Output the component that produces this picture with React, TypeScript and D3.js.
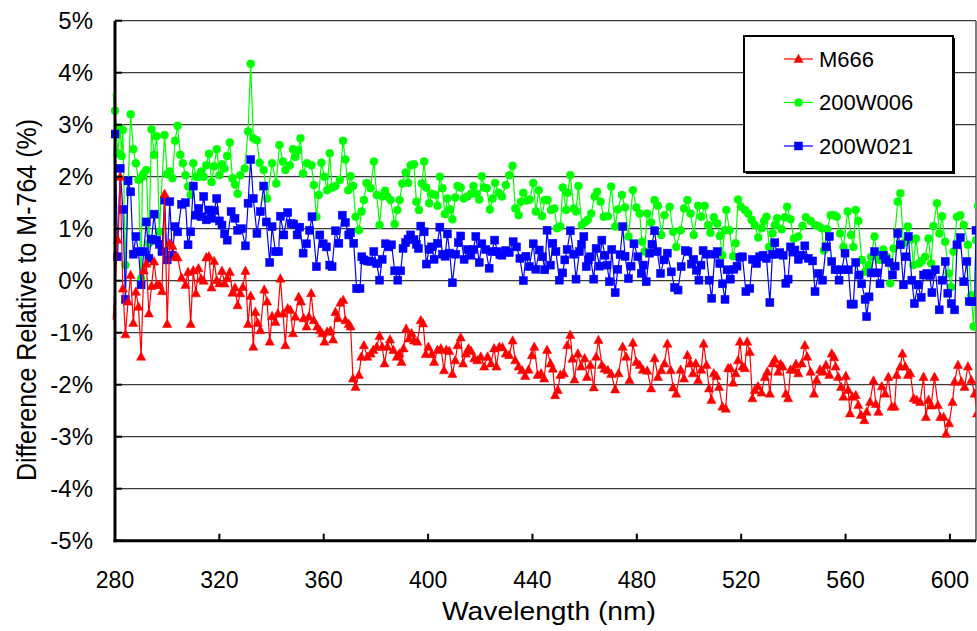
import React from 'react';
import * as d3 from 'd3';

type P = [number, number];

const xTicks = [280, 320, 360, 400, 440, 480, 520, 560, 600];
const yTicks = [-5, -4, -3, -2, -1, 0, 1, 2, 3, 4, 5];
const seriesNames = ['M666', '200W006', '200W021'];

const m666: P[] = [
[279.3,-0.75],[281,0.79],[282,2.0],[283,-0.15],[284,-1.03],[285,-0.4],[286,0.11],[287,-0.81],[288,-0.21],[289,-0.5],[290,-1.46],[291,0.2],[292,0.33],[293,-0.63],[294,-0.1],[295,0.37],[296,-0.08],[297,-0.08],[298,-0.2],[299,1.67],[300,-0.83],[301,0.72],[302,0.67],[303,0.46],[304,0.45],[305.5,0.06],[307,-0.08],[308,0.17],[309,-0.83],[310,0.2],[311,-0.24],[312,0.24],[313,0.04],[314,0.0],[315,0.45],[316,0.47],[317,-0.13],[318,0.38],[319,0.01],[320,-0.05],[321,0.19],[322,-0.05],[323,0.05],[324,0.17],[325,-0.23],[326,-0.13],[327,-0.47],[328,-0.24],[329,-0.12],[330,0.19],[331,-0.83],[332,-0.29],[333,-1.27],[333.8,-0.6],[334.7,-0.81],[335.7,-0.95],[337.2,-0.17],[338.3,-0.4],[339.3,-1.17],[340.2,-0.68],[341.5,-0.79],[342.4,-0.63],[343.4,0.04],[344.4,-0.63],[345.3,-1.24],[346.2,-0.53],[347.2,-0.56],[348.2,-1.01],[349.1,-0.69],[350.4,-0.31],[351.3,-0.4],[352.3,-0.72],[353.4,-0.88],[354.3,-0.69],[355.2,-0.24],[356.2,-0.76],[357.5,-0.88],[358.5,-0.95],[359.4,-1.01],[360.3,-1.17],[361.3,-0.98],[362.6,-0.96],[363.6,-1.13],[364.5,-0.6],[365.5,-0.72],[366.4,-0.42],[367.5,-0.37],[368.3,-0.76],[369.6,-0.83],[370.3,-0.88],[371.2,-1.88],[372.2,-2.04],[373.5,-1.81],[374.4,-1.46],[375.4,-1.24],[376.7,-1.46],[378,-1.4],[379,-1.33],[380.3,-1.27],[381.4,-1.06],[382.4,-1.27],[383.3,-1.59],[384.4,-1.27],[385.4,-1.13],[386.7,-1.33],[388,-1.46],[389,-1.4],[389.8,-1.56],[390.6,-1.3],[391.6,-0.92],[392.7,-1.11],[393.7,-1.01],[394.6,-1.15],[395.9,-1.17],[397.2,-0.76],[398.1,-0.82],[399.1,-1.41],[400.1,-1.27],[401.4,-1.41],[402.3,-1.56],[403.6,-1.33],[404.9,-1.3],[406.1,-1.72],[407,-1.33],[408.1,-1.35],[409.3,-1.79],[410.4,-1.53],[411.3,-1.24],[412.5,-1.09],[413.4,-1.59],[414.5,-1.4],[415.5,-1.3],[416.5,-1.35],[417.7,-1.49],[418.9,-1.53],[420.2,-1.46],[421.5,-1.65],[422.8,-1.46],[424.1,-1.59],[425.3,-1.3],[426.2,-1.65],[427.3,-1.27],[428.5,-1.28],[429.8,-1.4],[431.1,-1.43],[432.4,-1.15],[433.4,-1.53],[434.7,-1.65],[436,-1.72],[437.2,-1.83],[438.5,-1.71],[439.8,-1.43],[440.7,-1.27],[442,-1.81],[443.3,-1.78],[444.5,-1.88],[445.6,-1.33],[446.9,-1.59],[447.8,-1.69],[448.7,-2.2],[449.7,-2.1],[450.7,-1.81],[452,-1.78],[453.3,-1.24],[454.5,-1.04],[455.3,-1.5],[456.1,-1.9],[457.4,-1.4],[458.6,-1.65],[460,-1.49],[460.9,-1.85],[462.2,-1.62],[463.5,-2.05],[464.4,-1.46],[465.3,-1.14],[466.6,-1.62],[467.6,-1.69],[468.9,-1.72],[470.2,-1.79],[471.7,-2.09],[473,-1.78],[474.6,-1.27],[475.9,-1.46],[477.2,-1.91],[478.5,-1.19],[479.8,-1.56],[481.1,-1.62],[482.3,-1.71],[484,-1.73],[485.5,-2.07],[486.8,-1.49],[488.1,-1.85],[489.4,-1.72],[490.6,-1.59],[491.7,-1.21],[493,-1.72],[493.9,-2.05],[495.1,-2.17],[496.8,-1.71],[498.1,-1.88],[499.4,-1.43],[500.5,-1.59],[501.5,-1.78],[502.6,-1.59],[503.5,-1.91],[504.7,-1.71],[505.6,-1.21],[506.7,-1.62],[507.7,-2.07],[508.6,-2.29],[509.5,-1.78],[510.5,-1.83],[511.5,-2.04],[512.8,-2.42],[514.1,-2.46],[515,-1.68],[515.9,-1.68],[516.9,-1.96],[517.9,-1.78],[518.8,-1.53],[519.5,-1.17],[520.5,-1.65],[521.4,-1.68],[522.3,-1.17],[523.3,-1.37],[524.3,-2.26],[525.2,-2.1],[526.5,-2.03],[527.8,-2.15],[529.1,-1.85],[530,-1.75],[531,-2.17],[532,-1.59],[532.9,-1.51],[534.2,-1.75],[535.1,-1.6],[535.9,-1.65],[537.1,-2.17],[538,-2.26],[538.9,-1.71],[540.2,-1.71],[541,-1.6],[541.9,-1.78],[543.2,-1.59],[544.4,-1.24],[545.3,-1.46],[546.6,-1.75],[547.9,-2.17],[548.9,-1.91],[550.2,-1.71],[551.5,-1.75],[552.5,-1.62],[553.8,-1.81],[554.7,-1.4],[555.6,-1.47],[556.2,-1.65],[557.2,-1.85],[558.3,-2.04],[559.2,-2.23],[560.1,-1.83],[561,-2.1],[561.7,-2.55],[562.6,-2.23],[563.9,-2.2],[564.9,-2.39],[565.9,-2.58],[567.2,-2.68],[568.1,-2.52],[569.4,-2.33],[570.7,-1.92],[571.6,-2.37],[572.6,-2.52],[573.9,-2.03],[575.2,-2.17],[576.4,-1.85],[577.7,-2.42],[578.8,-2.42],[579.6,-1.81],[581,-1.65],[581.8,-1.4],[582.9,-1.65],[583.9,-1.81],[584.8,-1.78],[586.1,-2.26],[587.3,-2.29],[588.6,-2.33],[589.9,-1.85],[590.8,-2.62],[591.8,-2.29],[592.8,-2.4],[594.1,-1.85],[595.4,-2.39],[596.3,-2.62],[597.6,-2.62],[598.5,-2.94],[599.7,-2.74],[601,-2.33],[601.8,-1.94],[603.1,-1.62],[604.4,-1.94],[605.6,-2.04],[606.9,-1.65],[608.2,-1.91],[609.5,-2.17],[610.4,-2.55]
];

const w006: P[] = [
[279.3,3.6],[280,3.27],[281,2.45],[282,2.93],[282.5,2.4],[283,2.9],[284,0.3],[286,3.2],[287,2.53],[288,2.26],[289,1.94],[290,0.04],[290.5,2.0],[291,2.06],[292,2.13],[293,0.72],[294,2.91],[295,2.42],[296,2.78],[297,0.94],[299,2.8],[300,2.05],[301,2.1],[302,1.97],[303,2.69],[304,2.98],[305,2.42],[306,2.26],[307,2.03],[308,1.81],[309,1.65],[310,2.26],[311,2.0],[312,2.0],[313,2.1],[314,2.0],[315,2.22],[316,2.44],[317,1.9],[318,2.2],[319,2.53],[320,2.03],[321,2.24],[322,2.16],[323,2.4],[324,2.66],[325,1.97],[326,1.85],[327,1.67],[328,2.03],[329.7,2.16],[331,2.87],[332,4.17],[333,2.74],[334.4,2.7],[335.4,2.27],[337,2.13],[338.3,1.58],[340.2,2.26],[341.8,1.87],[343,2.61],[344.4,2.29],[345.3,2.13],[347,2.22],[348.2,2.53],[349.1,2.38],[350.2,2.51],[351.1,2.74],[352.1,2.06],[353.6,2.26],[355.3,2.22],[356.2,1.84],[357.2,1.23],[358.1,1.65],[359.1,2.27],[360.3,2.0],[361.3,1.74],[362.3,2.45],[363.2,1.79],[364.5,1.82],[366.2,1.94],[367.4,2.69],[368.3,2.33],[369.4,1.74],[370.3,2.01],[371.3,1.82],[372.2,1.23],[373.5,0.97],[374.5,1.33],[375.4,1.55],[376.4,1.88],[378,1.78],[379.2,2.29],[380.3,1.65],[381.4,1.07],[382.4,1.62],[383.5,1.73],[384.4,1.62],[385.6,1.55],[387.2,1.09],[388.2,1.36],[389.1,1.55],[390.1,1.87],[391.4,2.08],[392.4,1.88],[393.3,2.22],[394.6,2.24],[395.5,1.52],[396.5,1.36],[397.6,1.87],[398.5,2.29],[399.3,1.79],[400.4,1.49],[401.4,1.67],[402.7,1.65],[403.6,1.44],[404.5,2.0],[405.5,1.78],[406.4,1.28],[407.4,1.58],[408.4,1.37],[409.3,1.18],[410.4,1.6],[411.3,1.82],[412.5,1.79],[413.6,1.58],[415.1,1.62],[416.4,1.67],[417.4,1.82],[418.6,1.67],[419.6,1.56],[420.6,2.01],[421.5,1.79],[422.5,1.78],[423.7,1.37],[424.7,1.58],[425.7,1.88],[427,1.69],[428.3,1.62],[429.8,1.84],[431.1,2.03],[432.4,2.21],[433.4,1.39],[434.7,1.26],[435.6,1.52],[436.5,1.69],[437.8,1.54],[439,1.56],[440.3,1.88],[441.3,1.33],[442.4,1.74],[443.7,1.24],[444.7,1.55],[445.8,1.55],[447.1,1.36],[448.4,1.39],[449.4,1.01],[450.7,1.04],[451.6,1.79],[452.9,1.36],[453.5,1.69],[454.5,2.03],[455.8,1.39],[456.7,1.33],[457.6,1.82],[458.9,1.07],[460.2,1.13],[461.2,1.17],[462.5,1.29],[463.8,1.62],[464.8,1.71],[466.1,1.52],[467.3,1.23],[468.9,1.24],[470.2,1.81],[471.7,1.04],[472.7,1.37],[474.3,1.65],[475.5,1.41],[476.8,0.85],[478.5,1.74],[479.8,1.41],[481.1,1.29],[482,0.75],[483,0.56],[484,1.29],[485.5,1.12],[486.8,1.55],[488.1,1.44],[489.4,0.88],[490.6,1.26],[492.6,1.42],[493.9,0.94],[495.1,0.65],[496.8,0.97],[498.1,1.39],[499.4,1.55],[500.6,1.29],[501.8,0.88],[503.5,1.44],[504.7,1.23],[506,1.44],[507.3,1.07],[508.2,0.92],[509.5,1.22],[510.8,1.1],[511.8,0.86],[512.8,0.49],[513.7,0.97],[514.3,1.36],[515.5,0.97],[516.9,0.47],[517.9,0.72],[518.8,1.56],[519.9,1.42],[521.4,1.36],[522.7,1.29],[524,1.17],[525.2,1.07],[526.5,0.83],[527.8,1.01],[528.8,1.15],[529.7,1.23],[530.7,0.65],[532,0.91],[532.9,1.07],[533.8,1.2],[535.5,0.99],[536.7,1.22],[537.6,1.42],[538.9,1.18],[540.2,0.81],[541.9,0.85],[543.5,1.05],[544.8,1.22],[546.6,1.15],[548.3,1.07],[549.6,1.05],[550.8,1.01],[551.7,0.58],[553,0.99],[554.3,1.26],[555.6,1.26],[556.6,1.23],[557.9,0.91],[559.2,0.65],[560.8,1.33],[562.1,0.88],[563,0.65],[563.9,1.36],[564.9,1.15],[566.2,0.4],[567.5,0.17],[568.8,0.3],[569.8,0.46],[571.1,0.85],[572,0.49],[572.9,0.4],[574.5,0.6],[575.8,0.46],[577.1,-0.05],[578.4,0.62],[580,1.52],[581,1.68],[582.2,0.72],[583.9,1.04],[585.2,0.79],[586,0.3],[587,0.81],[588.2,0.33],[589.2,0.38],[590.5,0.46],[591.8,0.81],[592.8,0.33],[593.7,1.05],[595,1.49],[596,0.91],[597,1.24],[598.2,0.75],[599.5,0.14],[600.5,-0.12],[601.4,0.56],[602.7,1.23],[604,1.26],[605.3,1.07],[606.9,0.69],[608.2,-0.28],[609.1,-0.88],[610,0.78],[610.8,1.44]
];

const w021: P[] = [
[280,2.82],[281,0.46],[282,2.16],[283,1.37],[284,-0.36],[285,1.92],[286,1.71],[287,0.51],[288,0.85],[289,0.56],[290,-0.08],[291,0.56],[292,1.13],[293,0.43],[294,0.8],[295,1.28],[296,0.78],[297,0.7],[298,0.56],[299,1.55],[300,0.4],[301,1.52],[302,0.49],[303,1.04],[304,0.94],[305.5,1.47],[307,1.5],[308,0.69],[309,0.94],[310,1.82],[311,1.26],[312,1.39],[313,1.23],[314,1.62],[315,1.17],[316,1.36],[317,1.2],[318,1.35],[319,1.58],[320,1.15],[321,1.07],[322,0.9],[323,0.78],[324.5,1.33],[326,1.2],[327,0.97],[328.5,1.0],[330,0.67],[331,1.49],[332,2.33],[333,1.58],[334.4,0.91],[335.7,1.33],[337,1.82],[338,1.13],[339.3,0.35],[340.2,1.04],[341.5,0.56],[342.7,0.56],[343.4,1.24],[344.7,0.88],[346.2,1.31],[347.5,1.1],[348.5,1.09],[349.8,0.88],[350.8,1.03],[352.1,0.53],[353.4,0.71],[354.6,0.97],[355.5,1.23],[357.2,0.27],[358.5,0.88],[359.8,0.71],[361,0.65],[362.3,0.3],[363.2,0.27],[364.5,0.96],[365.8,0.72],[367.1,1.26],[368.3,1.12],[369.6,0.88],[370.3,0.92],[371.5,0.72],[372.6,-0.15],[373.9,-0.15],[374.6,0.46],[375.4,0.4],[376.7,0.38],[378,0.37],[379.2,0.56],[380.3,0.33],[381.4,0.01],[382.4,0.41],[383.7,0.71],[385,0.65],[386,0.69],[387.2,0.19],[388.4,0.01],[389.5,0.19],[390.4,0.62],[391.4,0.73],[392.3,0.8],[393.3,0.88],[394.6,0.79],[395.5,0.7],[396.3,0.62],[397.2,1.05],[398.5,0.94],[399.3,0.32],[400.4,0.6],[401.4,0.65],[402.3,0.41],[403.6,0.72],[404.5,1.03],[405.5,0.51],[406.5,0.47],[407.4,0.9],[408.3,0.53],[409.3,-0.04],[410.6,0.51],[411.6,0.73],[412.5,0.86],[413.8,0.41],[415.1,0.6],[416.4,0.49],[417.3,0.6],[418.3,0.85],[419.6,0.35],[420.6,0.71],[422.1,0.6],[423.4,0.24],[424.4,0.56],[425.5,0.78],[426.6,0.56],[427.5,0.5],[428.3,0.49],[429.8,0.58],[431.1,0.54],[432.6,0.75],[433.9,0.65],[435.2,0.43],[436.5,0.0],[437.5,0.47],[438.8,0.27],[440.3,0.71],[441.3,0.22],[442.6,0.59],[443.9,0.46],[444.7,0.21],[445.6,0.97],[446.9,0.3],[447.8,0.72],[449,0.56],[450.3,0.01],[451.6,0.15],[452.4,0.4],[453.3,0.6],[454.5,0.96],[455.8,0.51],[456.7,0.03],[458,0.56],[458.8,0.7],[459.7,0.85],[460.6,0.27],[461.4,0.4],[462.2,0.46],[463.5,0.03],[464.4,0.62],[465.7,0.28],[466.6,0.78],[467.8,0.49],[468.6,0.3],[469.5,-0.02],[470.4,0.6],[471.7,-0.23],[472.7,0.22],[473.6,0.5],[474.6,1.04],[475.5,0.47],[476.8,0.04],[477.8,0.28],[478.9,0.71],[480.4,0.46],[481.7,0.14],[482.6,0.3],[483.6,-0.02],[484.9,0.53],[485.8,0.7],[486.8,0.96],[487.8,0.56],[489.1,0.14],[490.4,0.4],[491.7,0.53],[493.2,0.17],[494.5,-0.13],[495.8,-0.18],[497,0.27],[498.6,0.58],[499.6,0.56],[500.9,0.32],[501.8,0.41],[502.8,0.2],[503.8,0.01],[504.6,0.3],[505.4,0.58],[506.7,0.51],[507.7,0.01],[508.7,-0.34],[509.9,0.51],[510.8,0.56],[511.8,0.33],[512.8,-0.06],[513.8,-0.36],[514.6,0.21],[515.9,0.03],[517.2,0.22],[518.4,0.28],[519.5,0.45],[520.5,0.46],[521.8,-0.21],[523.3,-0.15],[524.3,0.41],[525.9,0.33],[527.1,0.46],[528.4,0.49],[529.7,0.43],[531,-0.42],[532,0.51],[532.9,0.73],[533.8,0.51],[534.8,0.54],[536.1,0.49],[537.1,-0.05],[538,0.03],[538.9,0.65],[539.8,0.55],[540.6,0.59],[541.9,0.41],[543.2,0.49],[544.4,0.67],[545.7,0.43],[547.4,0.38],[548.3,-0.21],[549.6,0.14],[551.2,0.01],[552.5,0.65],[553.8,0.85],[554.7,0.37],[556,0.21],[557.5,0.01],[558.5,0.21],[559.8,0.53],[561.1,0.21],[562.1,-0.45],[563,-0.45],[563.9,0.35],[565.2,0.11],[566.2,-0.06],[567.5,-0.36],[568.1,-0.69],[569,-0.31],[569.8,0.15],[571.1,0.56],[572,0.15],[573.2,-0.06],[574.5,0.49],[575.4,0.41],[576.7,0.35],[578,0.11],[579,0.28],[580,0.91],[581,0.69],[582.2,-0.08],[583.1,0.46],[584.1,0.85],[585.4,0.01],[586.4,-0.44],[587.7,-0.08],[589,-0.32],[589.9,0.11],[591.2,0.14],[592.2,0.1],[593.1,-0.23],[594.4,0.21],[595.9,-0.56],[597,0.01],[598.2,0.37],[599.2,-0.24],[600.5,-0.44],[601.8,-0.56],[602.7,0.69],[604,0.83],[605.3,-0.02],[606.5,0.37],[607.4,-0.4],[608.5,-0.4],[609.5,-0.4],[610,0.97]
];

const FONT = "'Liberation Sans', Arial, sans-serif";
const RED = '#FF0000', GREEN = '#00FF00', BLUE = '#0000FF';

function Marker({ kind, cx, cy, color }: { kind: string; cx: number; cy: number; color: string }) {
  if (kind === 'tri') {
    return <path d={`M${cx},${cy - 4.8}L${cx + 4.6},${cy + 3.6}L${cx - 4.6},${cy + 3.6}Z`} fill={color} stroke={color} strokeWidth={0.5} />;
  }
  if (kind === 'circle') return <circle cx={cx} cy={cy} r={4} fill={color} stroke={color} strokeWidth={0.5} />;
  return <rect x={cx - 4} y={cy - 4} width={8} height={8} fill={color} stroke={color} strokeWidth={0.5} />;
}

export default function App() {
  const left = 115, right = 976, top = 20.7, bottom = 540.7;
  const x = d3.scaleLinear().domain([280, 610]).range([left, right]);
  const y = d3.scaleLinear().domain([-5, 5]).range([bottom, top]);
  const line = d3.line<P>().x(d => x(d[0])).y(d => y(d[1]));

  const series = [
    { name: seriesNames[1], data: w006, color: GREEN, kind: 'circle' },
    { name: seriesNames[2], data: w021, color: BLUE, kind: 'square' },
    { name: seriesNames[0], data: m666, color: RED, kind: 'tri' },
  ];
  const legendItems = [
    { name: seriesNames[0], color: RED, kind: 'tri' },
    { name: seriesNames[1], color: GREEN, kind: 'circle' },
    { name: seriesNames[2], color: BLUE, kind: 'square' },
  ];

  return (
    <svg width={977} height={631} style={{ position: 'absolute', left: 0, top: 0, background: '#fff' }} fontFamily={FONT}>
      <defs>
        <clipPath id="plot">
          <rect x={left - 4} y={top - 6} width={right - left + 4} height={bottom - top + 12} />
        </clipPath>
      </defs>
      <rect x={0} y={0} width={977} height={631} fill="#fff" />
      {yTicks.map(t => (
        <line key={t} x1={left} x2={right} y1={y(t)} y2={y(t)} stroke="#3c3c3c" strokeWidth={1.3} />
      ))}
      <line x1={right} x2={right} y1={top} y2={bottom} stroke="#3c3c3c" strokeWidth={1.3} />
      <g clipPath="url(#plot)">
        {series.map(s => (
          <g key={s.name}>
            <path d={line(s.data) || ''} fill="none" stroke={s.color} strokeWidth={1.2} />
            {s.data.filter(d => d[0] >= 280).map((d, i) => (
              <Marker key={i} kind={s.kind} cx={x(d[0])} cy={y(d[1])} color={s.color} />
            ))}
          </g>
        ))}
      </g>
      <line x1={left} x2={left} y1={top} y2={bottom + 1.5} stroke="#000" strokeWidth={3} />
      <line x1={left - 1.5} x2={right} y1={bottom} y2={bottom} stroke="#000" strokeWidth={3} />
      {yTicks.map(t => (
        <line key={'yt' + t} x1={left} x2={left + 7} y1={y(t)} y2={y(t)} stroke="#000" strokeWidth={2} />
      ))}
      {xTicks.map(t => (
        <line key={'xt' + t} x1={x(t)} x2={x(t)} y1={bottom} y2={bottom - 7} stroke="#000" strokeWidth={2} />
      ))}
      {yTicks.map(t => (
        <text key={'yl' + t} x={93} y={y(t)} dy="0.36em" textAnchor="end" fontSize={24} fill="#000">{`${t}%`}</text>
      ))}
      {xTicks.map(t => (
        <text key={'xl' + t} x={x(t)} y={588} textAnchor="middle" fontSize={23} fill="#000">{t}</text>
      ))}
      <text x={549} y={620} textAnchor="middle" fontSize={25} textLength={214} lengthAdjust="spacingAndGlyphs" fill="#000">Wavelength (nm)</text>
      <text transform={`translate(36,300) scale(1.12,1) rotate(-90)`} textAnchor="middle" fontSize={25} fill="#000">Difference Relative to M-764 (%)</text>
      <g>
        <rect x={746} y={38} width={209} height={136} fill="#000" />
        <rect x={744} y={36} width={209} height={136} fill="#fff" stroke="#000" strokeWidth={2} />
        {legendItems.map((it, i) => {
          const cy = 59 + i * 43.5;
          return (
            <g key={it.name}>
              <line x1={784} x2={813} y1={cy} y2={cy} stroke={it.color} strokeWidth={1.2} />
              <Marker kind={it.kind} cx={798.5} cy={cy} color={it.color} />
              <text x={819} y={cy} dy="0.36em" fontSize={22} fill="#000">{it.name}</text>
            </g>
          );
        })}
      </g>
    </svg>
  );
}
